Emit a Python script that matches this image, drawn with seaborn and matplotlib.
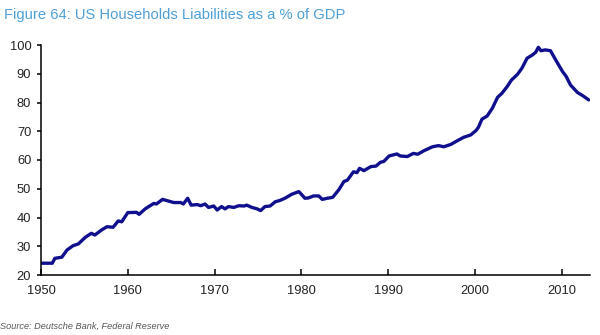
import matplotlib
matplotlib.use("Agg")
import matplotlib.pyplot as plt
import seaborn as sns
import pandas as pd

# Data (quarterly-ish points)
years = [1950.0, 1951.3, 1951.6, 1952.4, 1953.0, 1953.7, 1954.3, 1955.1, 1955.8, 1956.2,
         1957.0, 1957.6, 1958.3, 1958.9, 1959.3, 1960.0, 1961.0, 1961.3, 1962.0, 1963.0,
         1963.3, 1964.0, 1964.6, 1965.3, 1966.1, 1966.4, 1966.9, 1967.3, 1968.0, 1968.4,
         1968.9, 1969.3, 1969.9, 1970.3, 1970.8, 1971.2, 1971.6, 1972.2, 1972.8, 1973.4,
         1973.7, 1974.3, 1974.9, 1975.3, 1975.8, 1976.4, 1977.0, 1977.5, 1978.1, 1978.9,
         1979.7, 1979.9, 1980.4, 1980.8, 1981.4, 1982.0, 1982.4, 1983.0, 1983.6, 1984.3,
         1984.9, 1985.3, 1986.0, 1986.4, 1986.7, 1987.2, 1988.0, 1988.6, 1989.1, 1989.5,
         1990.1, 1991.0, 1991.4, 1992.2, 1992.9, 1993.4, 1994.1, 1995.1, 1995.8, 1996.4,
         1997.2, 1997.9, 1998.7, 1999.5, 2000.1, 2000.4, 2000.8, 2001.4, 2002.0, 2002.6,
         2003.1, 2003.7, 2004.2, 2004.9, 2005.4, 2006.0, 2006.6, 2007.0, 2007.3, 2007.6,
         2008.1, 2008.7, 2009.3, 2010.1, 2010.5, 2011.0, 2011.8, 2012.4, 2013.1]
liabilities = [24.1, 24.1, 25.8, 26.2, 28.7, 30.2, 30.8, 33.1, 34.5, 33.9,
               35.7, 36.8, 36.6, 38.8, 38.5, 41.7, 41.8, 41.1, 43.0, 44.9,
               44.7, 46.3, 45.8, 45.2, 45.2, 44.7, 46.7, 44.3, 44.5, 44.1,
               44.7, 43.5, 44.0, 42.6, 43.8, 43.0, 43.8, 43.5, 44.1, 44.0,
               44.3, 43.5, 43.0, 42.4, 43.8, 44.0, 45.5, 45.9, 46.7, 48.1,
               49.0, 48.4, 46.7, 46.8, 47.5, 47.5, 46.3, 46.7, 47.0, 49.6,
               52.5, 53.0, 55.9, 55.6, 57.1, 56.3, 57.7, 57.9, 59.2, 59.5,
               61.4, 62.1, 61.4, 61.2, 62.3, 62.0, 63.2, 64.6, 65.0, 64.6,
               65.4, 66.6, 67.9, 68.7, 70.2, 71.4, 74.2, 75.3, 78.0, 81.8,
               83.2, 85.5, 87.8, 89.8, 91.9, 95.4, 96.5, 97.5, 99.2, 98.0,
               98.3, 98.0, 94.8, 90.7, 89.1, 86.1, 83.5, 82.4, 80.9]

x_ticks = [1950, 1960, 1970, 1980, 1990, 2000, 2010]
y_ticks = [20, 30, 40, 50, 60, 70, 80, 90, 100]

title = "Figure 64: US Households Liabilities as a % of GDP"
source = "Source: Deutsche Bank, Federal Reserve"

df = pd.DataFrame({"year": years, "value": liabilities})

sns.set_style("white")
plt.rcParams["font.family"] = ["Liberation Sans", "DejaVu Sans"]

fig = plt.figure(figsize=(6.0, 3.35), dpi=100)
ax = fig.add_axes([41 / 600, 1 - 275 / 335, (590 - 41) / 600, (275 - 45) / 335])

sns.lineplot(data=df, x="year", y="value", ax=ax, color="#10108E", linewidth=2.4,
             estimator=None, sort=False)

ax.set_xlim(1950, 2013.25)
ax.set_ylim(20, 100)
ax.set_xticks(x_ticks)
ax.set_yticks(y_ticks)
ax.set_xlabel("")
ax.set_ylabel("")

for s in ["top", "right"]:
    ax.spines[s].set_visible(False)
for s in ["left", "bottom"]:
    ax.spines[s].set_color("black")
    ax.spines[s].set_linewidth(1.1)

ax.tick_params(axis="x", direction="in", length=4, width=1.1, color="black",
               labelsize=9.3, labelcolor="#222222", pad=7)
ax.tick_params(axis="y", direction="out", length=3, width=1.1, color="black",
               labelsize=9.3, labelcolor="#222222", pad=4)
ax.tick_params(left=True, bottom=True)

fig.text(4 / 600, 1 - 15 / 335, title, fontsize=10.6, color="#4E9FD6",
         ha="left", va="center")
fig.text(0 / 600, 1 - 326 / 335, source, fontsize=6.6, color="#555555",
         style="italic", ha="left", va="center")

fig.savefig("out.png", dpi=100, facecolor="white")
